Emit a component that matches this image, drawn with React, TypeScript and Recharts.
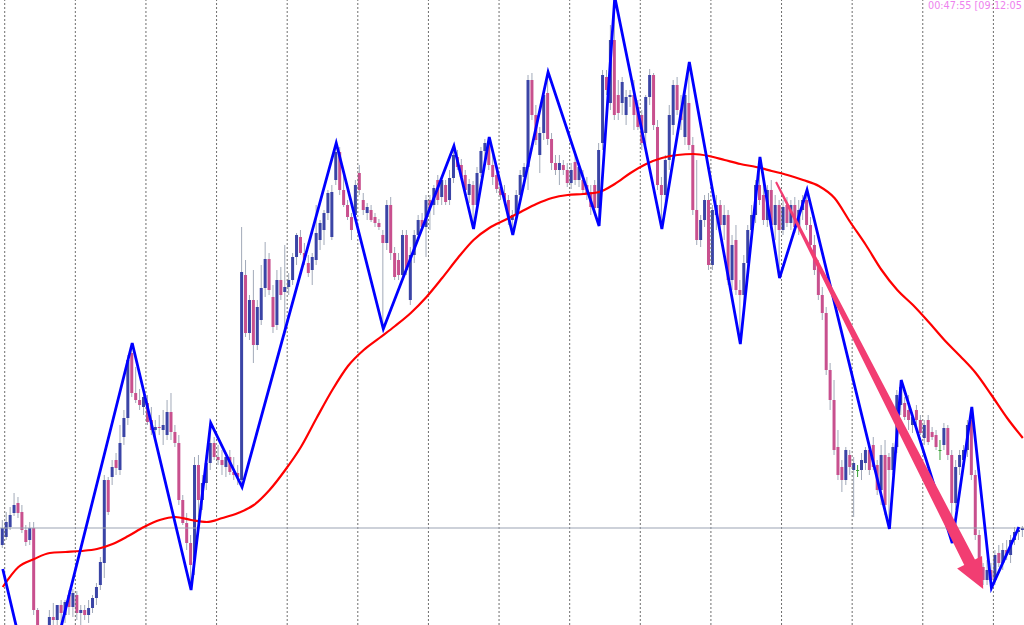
import React from "react";
import { ComposedChart, Bar, Line, XAxis, YAxis, ReferenceLine } from "recharts";

// price in points, one candle per hour; [open, high, low, close]
const candles: number[][] = [
  [80,105,77,97],[88,113,85,103],[98,118,95,110],[112,132,109,120],[122,128,107,112],
  [113,120,92,95],[95,100,79,83],[85,103,80,97],[97,103,10,15],[15,17,-94,-50],
  [-50,-20,-75,-30],[-30,-5,-45,-10],[-5,15,-25,8],[8,22,-10,5],[5,18,-8,20],
  [20,25,0,12],[10,25,2,23],[30,35,10,18],[18,36,8,32],[30,34,5,12],
  [12,20,0,15],[15,20,5,10],[10,25,2,17],[17,30,12,27],[27,42,20,38],
  [40,68,35,63],[62,150,47,145],[145,148,110,113],[148,165,140,158],[165,172,150,157],
  [155,200,150,182],[188,215,180,207],[207,270,200,265],[272,282,228,232],[232,258,222,225],
  [225,236,215,220],[218,232,210,228],[222,230,200,203],[205,218,190,195],[195,205,188,198],
  [198,210,190,197],[195,215,180,200],[190,225,185,213],[213,232,185,193],[193,200,178,182],
  [182,190,120,125],[125,130,100,102],[102,112,75,82],[82,90,35,60],[65,168,50,160],
  [160,170,108,125],[125,150,115,142],[142,170,135,162],[162,202,155,182],[182,188,165,168],
  [168,180,160,165],[165,175,150,160],[158,172,148,168],[168,175,150,153],[153,168,145,150],
  [152,160,140,148],[145,398,138,353],[350,365,288,292],[292,330,285,325],[325,355,262,280],
  [280,325,275,318],[305,360,300,337],[337,383,328,366],[366,372,330,335],[328,340,292,298],
  [300,355,295,345],[345,358,325,330],[333,380,290,338],[338,352,330,345],[345,372,340,368],
  [368,392,360,390],[388,395,370,372],[372,382,360,365],[362,370,348,352],[355,372,340,368],
  [365,420,360,392],[385,405,375,402],[395,415,380,412],[412,435,405,432],[388,440,385,433],
  [445,482,440,473],[473,478,430,435],[435,452,418,420],[420,425,405,408],[408,412,385,395],
  [410,445,405,440],[452,460,430,435],[425,432,410,415],[412,422,405,418],[415,420,403,405],
  [408,412,398,402],[402,406,395,398],[390,395,296,382],[382,425,375,420],[420,428,365,372],
  [372,378,345,348],[365,372,345,350],[350,395,345,390],[390,395,350,355],[325,378,320,370],
  [370,395,362,390],[390,410,385,405],[405,412,395,398],[398,430,368,425],[425,430,395,418],
  [420,440,410,437],[445,450,420,425],[428,448,420,445],[440,445,420,423],[425,455,420,447],
  [447,479,442,470],[468,475,455,458],[460,466,445,448],[450,455,430,435],[430,446,422,441],
  [440,444,396,420],[420,458,415,452],[452,478,448,474],[474,486,465,482],[482,488,455,460],
  [460,470,440,448],[450,456,432,436],[436,445,425,430],[432,440,420,425],[425,430,400,405],
  [405,415,390,410],[410,435,405,430],[430,455,425,450],[448,462,440,458],[458,550,435,545],
  [545,552,505,510],[510,520,480,485],[470,498,452,492],[492,535,485,530],[532,553,480,486],
  [486,492,455,462],[462,470,450,455],[455,470,440,462],[460,465,450,455],[455,462,438,442],
  [442,462,436,455],[463,470,440,445],[445,462,438,458],[445,455,430,435],[440,448,425,432],
  [433,440,410,418],[440,445,410,417],[417,482,399,475],[482,555,475,550],[548,555,530,535],
  [522,600,515,585],[585,628,505,510],[530,545,505,512],[522,548,510,543],[510,535,500,528],
  [528,535,518,530],[530,545,495,510],[518,525,495,498],[510,515,475,482],[492,530,480,528],
  [528,556,520,550],[550,552,495,500],[498,505,435,440],[440,448,396,430],[430,470,420,465],
  [465,520,455,510],[500,545,490,540],[540,548,510,515],[515,530,495,505],[488,535,480,530],
  [522,563,475,480],[480,488,410,415],[415,465,380,385],[385,410,378,405],[405,430,398,425],
  [425,432,355,360],[360,420,355,415],[410,430,395,420],[420,425,395,400],[400,420,385,410],
  [410,415,340,345],[345,390,335,380],[385,400,330,335],[335,345,281,330],[330,370,320,362],
  [362,400,355,395],[395,420,385,410],[410,445,402,440],[440,468,420,425],[430,448,400,405],
  [405,440,398,435],[435,445,395,400],[400,430,385,420],[420,425,347,395],[395,425,390,418],
  [420,428,398,402],[402,425,395,420],[420,428,392,398],[398,425,390,415],[415,430,405,425],
  [425,435,395,400],[400,408,375,380],[380,390,350,355],[360,365,325,330],[330,338,305,312],
  [312,318,250,255],[255,262,215,225],[225,245,170,175],[178,195,145,150],[158,165,133,145],
  [145,178,140,175],[170,175,150,158],[155,168,108,162],[155,160,148,155],[155,172,145,165],
  [162,178,155,175],[175,180,150,155],[180,188,155,158],[160,165,130,135],[135,180,120,170],
  [170,185,110,120],[168,172,96,155],[155,182,150,178],[178,235,172,230],[220,245,210,238],
  [222,228,205,208],[215,230,195,205],[200,212,192,208],[215,220,200,205],[205,210,190,192],
  [187,205,180,200],[205,210,180,183],[193,198,185,188],[190,195,175,178],[175,185,165,175],
  [180,202,175,197],[197,200,165,170],[170,175,82,122],[122,165,115,158],[158,175,150,170],
  [165,180,155,175],[175,205,168,200],[205,218,145,150],[150,155,85,90],[90,95,40,50],
  [58,62,40,45],[45,65,40,55],[55,62,37,45],[45,75,40,70],[72,80,58,62],
  [62,82,55,75],[75,85,65,70],[70,90,62,85],[85,98,80,93],[93,98,85,95],
  [95,99,88,97],
];

// zigzag pivots: candle index and price
const zigzagIdx = [0, 9, 33, 48, 53, 61, 85, 97, 115, 120, 124, 130, 139, 152, 156, 168, 175, 188, 193, 198, 205, 226, 229, 242, 247, 252, 259];
const zigzagVal = [56, -94, 282, 35, 202, 138, 482, 296, 479, 396, 488, 390, 553, 399, 628, 396, 563, 281, 468, 347, 435, 96, 245, 82, 218, 37, 98];

// moving average, read every 4th candle
const maStep = 4;
const maValues = [38,58,66,72,73,74,76,81,89,98,105,108,105,103,107,112,120,135,155,178,207,235,259,275,287,299,312,328,347,367,385,397,405,413,421,427,430,431,433,441,452,461,467,470,471,469,465,461,458,454,450,445,439,427,403,380,355,335,320,303,285,269,252,230,207,187];

// first candle of each day
const dayStarts = [1, 19, 37, 55, 73, 91, 109, 127, 145, 163, 181, 199, 217, 235, 253];

const bidPrice = 97;
const arrowFrom = { i: 197.1, v: 443 };
const arrowTo = { i: 249.9, v: 36 };
const timerLabel = "00:47:55 [09:12:05";

const W = 1024;
const H = 625;
const BULL = "#3a44a6";
const BEAR = "#c8508e";
const DOJI = "#3aa03a";
const WICK = "#a2aab9";

const candleData = candles.map(([o, h, l, c], i) => ({ i, o, h, l, c }));
const zigzagData = zigzagIdx.map((i, k) => ({ i, v: zigzagVal[k] }));
const maData = maValues.map((v, k) => ({ i: k * maStep, v }));

function Candle(props: any) {
  const { x, y, width, height, payload } = props;
  if (x == null || y == null || !payload) return null;
  const { o, h, l, c } = payload;
  const top = Math.min(y, y + height);
  const span = Math.abs(height);
  const py = (v: number) => (h === l ? top : top + ((h - v) / (h - l)) * span);
  const cx = x + width / 2;
  const bTop = py(Math.max(o, c));
  const bH = Math.max(1, py(Math.min(o, c)) - bTop);
  const color = c > o ? BULL : c < o ? BEAR : DOJI;
  return (
    <g>
      <line x1={cx} x2={cx} y1={top} y2={top + span} stroke={o === c ? DOJI : WICK} strokeWidth={1} />
      <rect x={cx - 1.5} y={bTop} width={3} height={bH} fill={color} />
    </g>
  );
}

function Arrow(props: any) {
  const { x1, y1, x2, y2 } = props;
  if ([x1, y1, x2, y2].some((n) => n == null || isNaN(n))) return null;
  const dx = x2 - x1;
  const dy = y2 - y1;
  const len = Math.hypot(dx, dy);
  const ux = dx / len, uy = dy / len;
  const nx = -uy, ny = ux;
  const headLen = 30, headHalf = 14, neck = 6, tail = 1;
  const bx = x2 - ux * headLen, by = y2 - uy * headLen;
  const pts = [
    [x1 + nx * tail, y1 + ny * tail],
    [bx + nx * neck, by + ny * neck],
    [bx + nx * headHalf, by + ny * headHalf],
    [x2, y2],
    [bx - nx * headHalf, by - ny * headHalf],
    [bx - nx * neck, by - ny * neck],
    [x1 - nx * tail, y1 - ny * tail],
  ];
  return <polygon points={pts.map((p) => p.join(",")).join(" ")} fill="#f23d72" />;
}

export default function App() {
  return (
    <div style={{ position: "absolute", left: 0, top: 0, width: W, height: H, background: "#fff", overflow: "hidden" }}>
      <ComposedChart width={W} height={H} data={candleData} margin={{ top: 0, right: 0, bottom: 0, left: 0 }}>
        <XAxis dataKey="i" type="number" domain={[-0.7, 260.3]} allowDataOverflow hide />
        <YAxis type="number" domain={[0, 625]} allowDataOverflow hide />
        {dayStarts.map((d) => (
          <ReferenceLine key={d} x={d - 0.5} stroke="#6e6e6e" strokeDasharray="2 2" />
        ))}
        <ReferenceLine y={bidPrice} stroke="#9ba3b3" />
        <Bar dataKey={(d: any) => [d.l, d.h]} barSize={3} shape={Candle} isAnimationActive={false} />
        <Line data={maData} dataKey="v" type="monotone" stroke="#ff0000" strokeWidth={2.2} dot={false} activeDot={false} isAnimationActive={false} />
        <Line data={zigzagData} dataKey="v" type="linear" stroke="#0000ff" strokeWidth={2.8} dot={false} activeDot={false} isAnimationActive={false} />
        <ReferenceLine
          segment={[{ x: arrowFrom.i, y: arrowFrom.v }, { x: arrowTo.i, y: arrowTo.v }]}
          shape={Arrow}
        />
      </ComposedChart>
      <span
        style={{
          position: "absolute", left: 928, top: 0, fontFamily: "DejaVu Sans", fontSize: 9.7,
          color: "#ee82ee", lineHeight: "11px", whiteSpace: "nowrap",
        }}
      >
        {timerLabel}
      </span>
    </div>
  );
}
